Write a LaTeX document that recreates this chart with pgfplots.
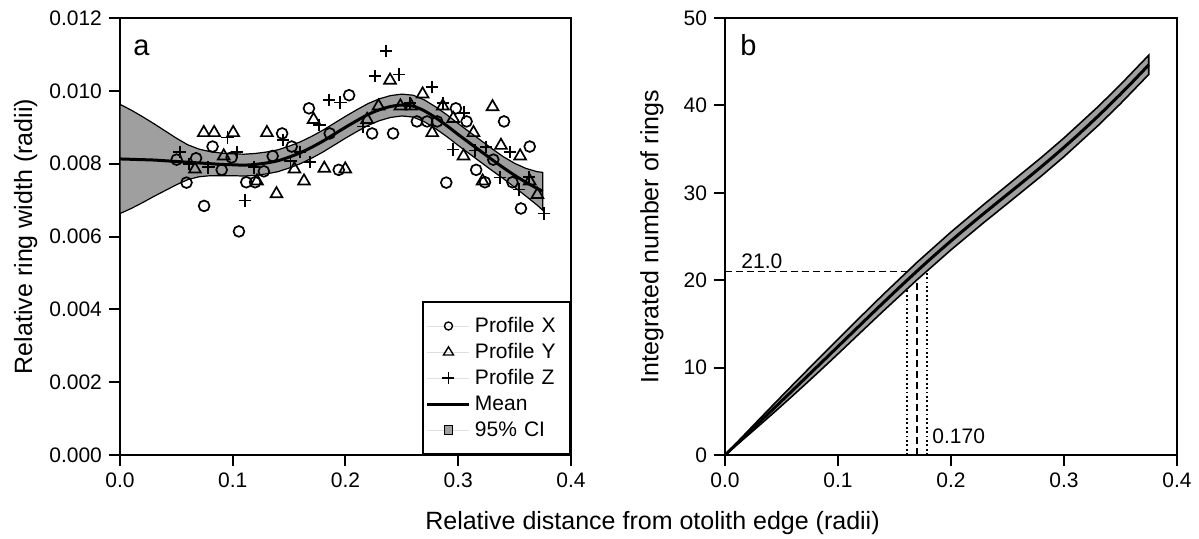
\documentclass[border=0pt]{standalone}
\usepackage{fontspec}
\setmainfont{Liberation Sans}
\usepackage{pgfplots}
\pgfplotsset{compat=1.18}
\pgfplotsset{/pgf/number format/assume math mode=true}
\pgfplotsset{
  mystyle/.style={
    scale only axis,
    tick align=outside, major tick length=5.5pt,
    xtick pos=bottom, ytick pos=left,
    axis line style={line width=1pt},
    every tick/.style={black, line width=1pt},
    tick label style={font=\fontsize{10.5}{12}\selectfont},
    label style={font=\fontsize{12.5}{15}\selectfont},
    scaled ticks=false,
    clip=false,
  }
}
\begin{document}
\begin{tikzpicture}
\path[use as bounding box] (0,0) rectangle (599.5pt,269pt);
% ---------------- panel a ----------------
\begin{axis}[mystyle,
  at={(60pt,41.5pt)}, anchor=south west,
  width=225.5pt, height=218.5pt,
  xmin=0, xmax=0.4, ymin=0, ymax=0.012,
  xtick={0,0.1,0.2,0.3,0.4},
  ytick={0,0.002,0.004,0.006,0.008,0.010,0.012},
  xticklabel style={/pgf/number format/fixed, /pgf/number format/fixed zerofill, /pgf/number format/precision=1},
  yticklabel style={/pgf/number format/fixed, /pgf/number format/fixed zerofill, /pgf/number format/precision=3},
  ylabel={Relative ring width (radii)},
  ylabel style={at={(axis description cs:-0.2093,0.5)}, anchor=center},
  legend style={at={(axis description cs:1,0)}, anchor=south east,
    draw=black, line width=1pt, fill=white,
    inner xsep=1.5pt, inner ysep=5.5pt, row sep=0pt,
    font=\fontsize{10.5}{12}\selectfont,
    nodes={text height=8pt, text depth=2pt, inner ysep=1.5pt, inner xsep=2pt},
    /tikz/every even column/.append style={text width=44pt}},
  legend cell align=left,
]
\addplot[fill=gray!75, draw=black, line width=0.6pt, forget plot] coordinates {
(0,0.00963) (0.01,0.00947) (0.02,0.00929) (0.03,0.00910) (0.04,0.00890) (0.05,0.00870)
(0.06,0.00852) (0.07,0.00840) (0.08,0.00833) (0.09,0.00829) (0.10,0.00827) (0.11,0.00826)
(0.12,0.00828) (0.13,0.00832) (0.14,0.00838) (0.15,0.00848) (0.16,0.00860) (0.17,0.00875)
(0.18,0.00892) (0.19,0.00911) (0.20,0.00930) (0.21,0.00948) (0.22,0.00965) (0.23,0.00978)
(0.24,0.00987) (0.25,0.00991) (0.26,0.00988) (0.27,0.00975) (0.28,0.00956) (0.29,0.00934)
(0.30,0.00910) (0.31,0.00887) (0.32,0.00864) (0.33,0.00841) (0.34,0.00819) (0.35,0.00801)
(0.36,0.00787) (0.37,0.00778) (0.375,0.00776)
(0.375,0.00672) (0.37,0.00686) (0.36,0.00711) (0.35,0.00735) (0.34,0.00759) (0.33,0.00781)
(0.32,0.00804) (0.31,0.00827) (0.30,0.00850) (0.29,0.00874) (0.28,0.00896) (0.27,0.00915)
(0.26,0.00928) (0.25,0.00931) (0.24,0.00927) (0.23,0.00918) (0.22,0.00905) (0.21,0.00888)
(0.20,0.00870) (0.19,0.00851) (0.18,0.00832) (0.17,0.00815) (0.16,0.00800) (0.15,0.00788)
(0.14,0.00778) (0.13,0.00772) (0.12,0.00768) (0.11,0.00766) (0.10,0.00767) (0.09,0.00767)
(0.08,0.00767) (0.07,0.00764) (0.06,0.00756) (0.05,0.00742) (0.04,0.00726) (0.03,0.00710)
(0.02,0.00693) (0.01,0.00677) (0,0.00663)
} -- cycle;
\addplot[black, line width=1.5pt, smooth, forget plot] coordinates {
(0,0.00813) (0.01,0.00812) (0.02,0.00811) (0.03,0.00810) (0.04,0.00808) (0.05,0.00806)
(0.06,0.00804) (0.07,0.00802) (0.08,0.00800) (0.09,0.00798) (0.10,0.00797) (0.11,0.00796)
(0.12,0.00798) (0.13,0.00802) (0.14,0.00808) (0.15,0.00818) (0.16,0.00830) (0.17,0.00845)
(0.18,0.00862) (0.19,0.00881) (0.20,0.00900) (0.21,0.00918) (0.22,0.00935) (0.23,0.00948)
(0.24,0.00957) (0.25,0.00961) (0.26,0.00958) (0.27,0.00945) (0.28,0.00926) (0.29,0.00904)
(0.30,0.00880) (0.31,0.00857) (0.32,0.00834) (0.33,0.00811) (0.34,0.00789) (0.35,0.00768)
(0.36,0.00749) (0.37,0.00732) (0.375,0.00724)
};
% Profile X
\addplot[only marks, mark=o, mark size=2.7pt, mark options={line width=0.85pt}, forget plot] coordinates {
(0.0502,0.00811) (0.059,0.00748) (0.0675,0.00815) (0.0746,0.00684) (0.0821,0.00847)
(0.0902,0.00783) (0.099,0.00817) (0.1055,0.00614) (0.112,0.00749) (0.1198,0.00749)
(0.1276,0.00779) (0.1354,0.00821) (0.1438,0.00883) (0.1523,0.00847) (0.1676,0.00952)
(0.186,0.00883) (0.194,0.00783) (0.2032,0.00988) (0.2236,0.00883) (0.2422,0.00883)
(0.2633,0.00916) (0.2724,0.00916) (0.2813,0.00916) (0.2894,0.00748) (0.2979,0.00952)
(0.3074,0.00916) (0.3159,0.00783) (0.3237,0.00749) (0.3311,0.00811) (0.3406,0.00916)
(0.3481,0.00749) (0.3556,0.00677) (0.3634,0.00847)
};
% Profile Y
\addplot[only marks, mark=triangle, mark size=3.4pt, mark options={line width=0.85pt}, forget plot] coordinates {
(0.0665,0.00785) (0.0743,0.00885) (0.0835,0.00885) (0.092,0.00821) (0.1004,0.00885)
(0.1215,0.00752) (0.1303,0.00885) (0.1388,0.00717) (0.1547,0.00785) (0.1632,0.00752)
(0.1717,0.00921) (0.1812,0.00787) (0.1998,0.00785) (0.2192,0.00921) (0.2293,0.00958)
(0.2395,0.01029) (0.2487,0.00958) (0.2582,0.00958) (0.2684,0.00991) (0.2769,0.00885)
(0.2863,0.00958) (0.2955,0.00924) (0.3047,0.00821) (0.3135,0.00885) (0.3216,0.00752)
(0.3304,0.00956) (0.3379,0.0085) (0.3549,0.00821) (0.3634,0.00752) (0.3702,0.00715)
};
% Profile Z
\addplot[only marks, mark=+, mark size=3.1pt, mark options={line width=0.9pt}, forget plot] coordinates {
(0.0529,0.00832) (0.0614,0.00799) (0.0784,0.0079) (0.0953,0.00872) (0.1038,0.00832)
(0.1106,0.00699) (0.1191,0.0079) (0.1445,0.00865) (0.1513,0.00807) (0.1598,0.00832)
(0.1683,0.00804) (0.1768,0.00907) (0.1852,0.00975) (0.1954,0.00968) (0.2158,0.00902)
(0.226,0.0104) (0.2361,0.0111) (0.2473,0.01045) (0.2572,0.00966) (0.2769,0.0101)
(0.2863,0.00966) (0.2955,0.00839) (0.305,0.0094) (0.3149,0.00836) (0.3244,0.00846)
(0.337,0.00762) (0.3458,0.00832) (0.3539,0.00729) (0.3627,0.00764) (0.376,0.00663)
};
\addlegendimage{legend image code/.code={
  \draw[gray!25, line width=0.4pt] (0pt,0pt) -- (21pt,0pt);
  \draw[black, line width=0.7pt] (10.5pt,0pt) circle (2pt);}}
\addlegendentry{Profile X}
\addlegendimage{legend image code/.code={
  \draw[gray!25, line width=0.4pt] (0pt,0pt) -- (21pt,0pt);
  \draw[black, line width=0.7pt] (10.5pt,2.6pt) -- (13pt,-1.5pt) -- (8pt,-1.5pt) -- cycle;}}
\addlegendentry{Profile Y}
\addlegendimage{legend image code/.code={
  \draw[gray!25, line width=0.4pt] (0pt,0pt) -- (21pt,0pt);
  \draw[black, line width=0.7pt] (7.5pt,0pt) -- (13.5pt,0pt) (10.5pt,-3pt) -- (10.5pt,3pt);}}
\addlegendentry{Profile Z}
\addlegendimage{legend image code/.code={
  \draw[black, line width=1.5pt] (0pt,0pt) -- (21pt,0pt);}}
\addlegendentry{Mean}
\addlegendimage{legend image code/.code={
  \draw[gray!25, line width=0.4pt] (0pt,0pt) -- (21pt,0pt);
  \draw[black, fill=gray!75, line width=0.5pt] (8.3pt,-2.2pt) rectangle (12.7pt,2.2pt);}}
\addlegendentry{95\% CI}
\node[anchor=base west, inner sep=0pt, font=\fontsize{14.5}{17}\selectfont] at (axis cs:0.0115,0.01098) {a};
\end{axis}
% ---------------- panel b ----------------
\begin{axis}[mystyle,
  at={(362.5pt,41.5pt)}, anchor=south west,
  width=226pt, height=218.5pt,
  xmin=0, xmax=0.4, ymin=0, ymax=50,
  xtick={0,0.1,0.2,0.3,0.4},
  ytick={0,10,20,30,40,50},
  xticklabel style={/pgf/number format/fixed, /pgf/number format/fixed zerofill, /pgf/number format/precision=1},
  ylabel={Integrated number of rings},
  ylabel style={at={(axis description cs:-0.1615,0.5)}, anchor=center},
]
\addplot[black, line width=0.9pt, dash pattern=on 3.5pt off 2pt, forget plot] coordinates {(0,21) (0.1785,21)};
\addplot[black, line width=0.9pt, dash pattern=on 3.5pt off 2pt, forget plot] coordinates {(0.170,0) (0.170,21)};
\addplot[black, line width=0.9pt, dash pattern=on 0.9pt off 1.3pt, forget plot] coordinates {(0.1614,0) (0.1614,21)};
\addplot[black, line width=0.9pt, dash pattern=on 0.9pt off 1.3pt, forget plot] coordinates {(0.1785,0) (0.1785,21)};
\addplot[fill=gray!75, draw=black, line width=0.8pt, forget plot] coordinates {
(0,0) (0.01,1.351) (0.02,2.703) (0.03,4.047) (0.04,5.383) (0.05,6.712) (0.06,8.034)
(0.07,9.349) (0.08,10.657) (0.09,11.959) (0.10,13.253) (0.12,15.823) (0.14,18.365)
(0.17,22.053) (0.20,25.515) (0.23,28.77) (0.25,30.879) (0.28,34.05) (0.30,36.275)
(0.33,39.835) (0.35,42.38) (0.375,45.745)
(0.375,43.545) (0.35,40.20) (0.33,37.675) (0.30,34.135) (0.28,31.93) (0.25,28.779)
(0.23,26.70) (0.20,23.475) (0.17,20.053) (0.14,16.465) (0.12,14.023) (0.10,11.573)
(0.09,10.359) (0.08,9.157) (0.07,7.969) (0.06,6.794) (0.05,5.632) (0.04,4.483)
(0.03,3.347) (0.02,2.223) (0.01,1.111) (0,0)
} -- cycle;
\addplot[black, line width=1.5pt, forget plot] coordinates {
(0,0) (0.01,1.231) (0.02,2.463) (0.03,3.697) (0.04,4.933) (0.05,6.172) (0.06,7.414)
(0.07,8.659) (0.08,9.907) (0.09,11.159) (0.10,12.413) (0.11,13.668) (0.12,14.923)
(0.13,16.173) (0.14,17.415) (0.15,18.645) (0.16,19.859) (0.17,21.053) (0.18,22.225)
(0.19,23.372) (0.20,24.495) (0.21,25.595) (0.22,26.674) (0.23,27.736) (0.24,28.786)
(0.25,29.829) (0.26,30.871) (0.27,31.922) (0.28,32.991) (0.29,34.084) (0.30,35.205)
(0.31,36.356) (0.32,37.539) (0.33,38.755) (0.34,40.005) (0.35,41.290) (0.36,42.608)
(0.37,43.958) (0.375,44.645)
};
\node[anchor=base west, inner sep=0pt, font=\fontsize{10.5}{12}\selectfont] at (axis cs:0.0142,21.37) {21.0};
\node[anchor=base west, inner sep=0pt, font=\fontsize{10.5}{12}\selectfont] at (axis cs:0.1832,1.26) {0.170};
\node[anchor=base west, inner sep=0pt, font=\fontsize{14.5}{17}\selectfont] at (axis cs:0.0133,45.7) {b};
\end{axis}
\node[font=\fontsize{12.5}{15}\selectfont] at (326.25pt,7.5pt) {Relative distance from otolith edge (radii)};
\end{tikzpicture}
\end{document}
